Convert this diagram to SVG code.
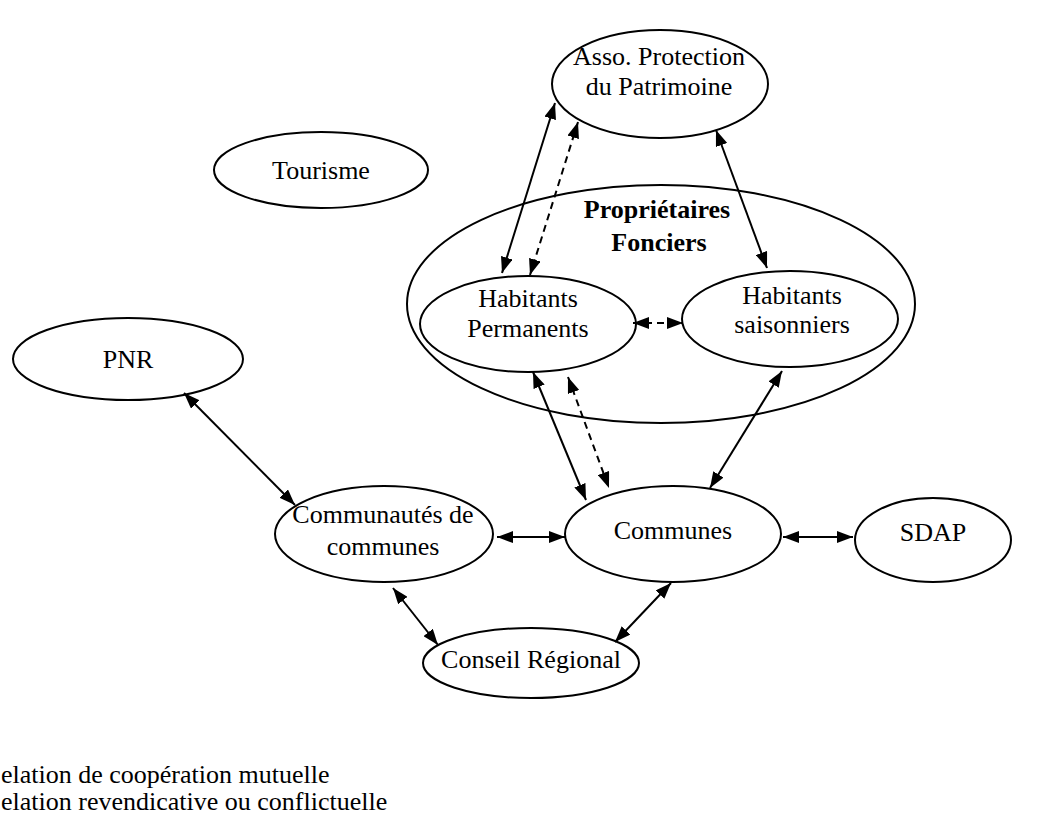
<svg xmlns="http://www.w3.org/2000/svg" width="1064" height="816" viewBox="0 0 1064 816">
<style>
.n{fill:#fff;stroke:#000;stroke-width:2}
.big{fill:none;stroke:#000;stroke-width:2}
.t{font-family:"Liberation Serif","Times New Roman",serif;font-size:26px;fill:#000;text-anchor:middle}
.b{font-weight:bold}
.lg{font-family:"Liberation Serif","Times New Roman",serif;font-size:26px;fill:#000}
.c{stroke:#000;stroke-width:2;fill:none;marker-start:url(#ah);marker-end:url(#ah)}
.d{stroke-dasharray:7,5}
</style>
<defs>
<marker id="ah" viewBox="0 0 16 12" refX="16" refY="6" markerWidth="16" markerHeight="12" markerUnits="userSpaceOnUse" orient="auto-start-reverse">
<path d="M0,0 L16,6 L0,12 Z" fill="#000"/>
</marker>
</defs>
<rect width="1064" height="816" fill="#fff"/>
<g id="proprietaires">
<ellipse class="big" cx="661" cy="304" rx="254" ry="119"/>
<text class="t b" x="657" y="218">Propriétaires</text>
<text class="t b" x="659" y="251">Fonciers</text>
</g>
<g id="asso">
<ellipse class="n" cx="660" cy="84" rx="108" ry="54"/>
<text class="t" x="659" y="65">Asso. Protection</text>
<text class="t" x="659" y="95">du Patrimoine</text>
</g>
<g id="tourisme">
<ellipse class="n" cx="321" cy="170" rx="107" ry="38"/>
<text class="t" x="321" y="179">Tourisme</text>
</g>
<g id="habitants-permanents">
<ellipse class="n" cx="528" cy="324" rx="108" ry="48"/>
<text class="t" x="528" y="307">Habitants</text>
<text class="t" x="528" y="337">Permanents</text>
</g>
<g id="habitants-saisonniers">
<ellipse class="n" cx="790" cy="319" rx="108" ry="48"/>
<text class="t" x="792" y="304">Habitants</text>
<text class="t" x="792" y="333">saisonniers</text>
</g>
<g id="pnr">
<ellipse class="n" cx="128" cy="359" rx="115" ry="41"/>
<text class="t" x="128" y="368">PNR</text>
</g>
<g id="communautes">
<ellipse class="n" cx="384" cy="534" rx="109" ry="48"/>
<text class="t" x="383" y="523">Communautés de</text>
<text class="t" x="383" y="555">communes</text>
</g>
<g id="communes">
<ellipse class="n" cx="673" cy="534" rx="108" ry="48"/>
<text class="t" x="673" y="539">Communes</text>
</g>
<g id="sdap">
<ellipse class="n" cx="933" cy="540" rx="78" ry="42"/>
<text class="t" x="933" y="541">SDAP</text>
</g>
<g id="conseil">
<ellipse class="n" cx="531" cy="663" rx="108" ry="35"/>
<text class="t" x="531" y="668">Conseil Régional</text>
</g>
<g id="connectors">
<line class="c" x1="555" y1="103" x2="502" y2="273"/>
<line class="c d" x1="578" y1="122" x2="530" y2="275"/>
<line class="c" x1="716" y1="130" x2="767" y2="268"/>
<line class="c d" x1="633" y1="323" x2="683" y2="323"/>
<line class="c" x1="533" y1="372" x2="586" y2="500"/>
<line class="c d" x1="568" y1="377" x2="609" y2="488"/>
<line class="c" x1="782" y1="371" x2="710" y2="488"/>
<line class="c" x1="184" y1="393" x2="295" y2="505"/>
<line class="c" x1="497" y1="537" x2="565" y2="537"/>
<line class="c" x1="783" y1="537" x2="853" y2="537"/>
<line class="c" x1="393" y1="588" x2="438" y2="645"/>
<line class="c" x1="671" y1="583" x2="615" y2="642"/>
</g>
<g id="legend">
<text class="lg" x="1" y="783">elation de coopération mutuelle</text>
<text class="lg" x="1" y="810">elation revendicative ou conflictuelle</text>
</g>
</svg>
